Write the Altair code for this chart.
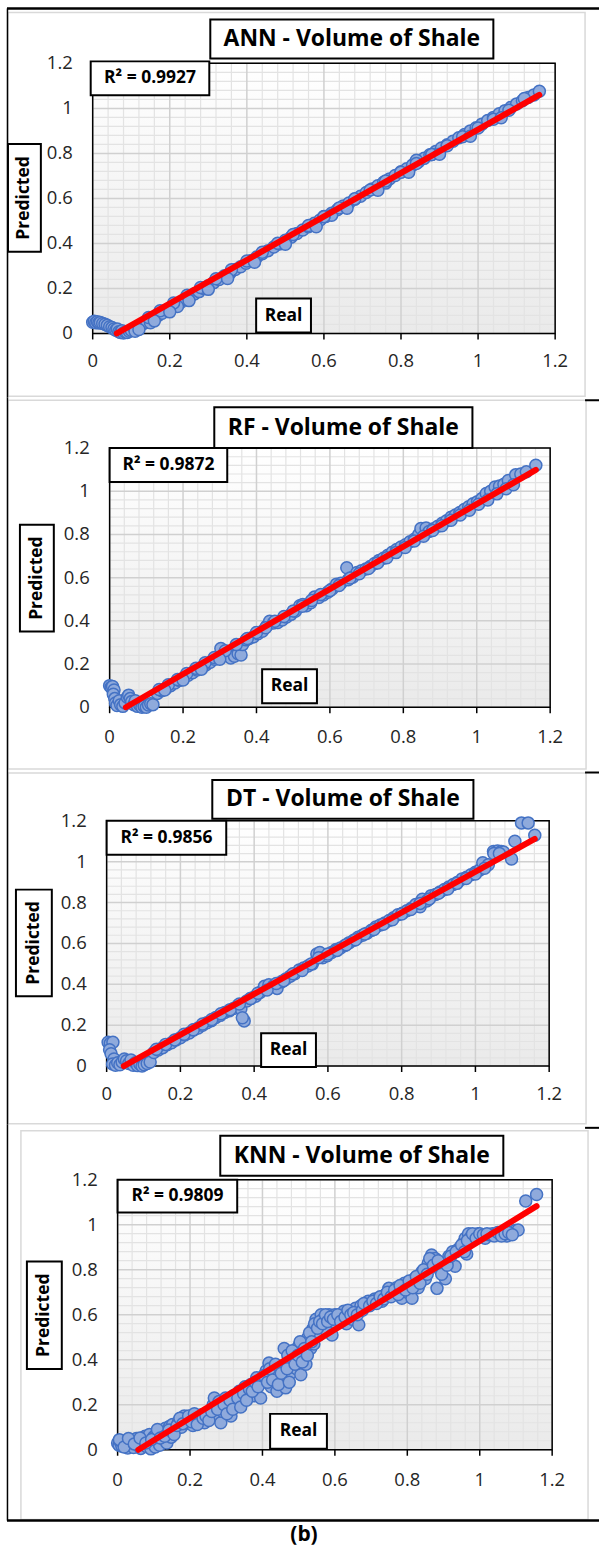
import altair as alt
import pandas as pd

FONT = "Open Sans"
TICKS = [0, 0.2, 0.4, 0.6, 0.8, 1, 1.2]
TICK_LABELS = ["0", "0.2", "0.4", "0.6", "0.8", "1", "1.2"]
MINOR = [0.04, 0.08, 0.12, 0.16, 0.24, 0.28, 0.32, 0.36, 0.44, 0.48, 0.52, 0.56,
         0.64, 0.68, 0.72, 0.76, 0.84, 0.88, 0.92, 0.96, 1.04, 1.08, 1.12, 1.16]

TITLES = ["ANN - Volume of Shale", "RF - Volume of Shale", "DT - Volume of Shale", "KNN - Volume of Shale"]
R2_TEXT = ["R² = 0.9927", "R² = 0.9872", "R² = 0.9856", "R² = 0.9809"]

# ---------------- ANN ----------------
ann_x = [0.000, 0.004, 0.008, 0.012, 0.016, 0.020, 0.026, 0.032, 0.038, 0.044, 0.050, 0.055, 0.060, 0.064,
         0.068, 0.072, 0.076, 0.080, 0.085, 0.090, 0.095, 0.100, 0.108, 0.116, 0.124, 0.132, 0.140, 0.150,
         0.160, 0.170, 0.180, 0.192, 0.204, 0.216, 0.228, 0.240, 0.252, 0.264, 0.276, 0.288, 0.300, 0.314,
         0.328, 0.342, 0.356, 0.370, 0.384, 0.398, 0.412, 0.426, 0.440, 0.455, 0.470, 0.485, 0.500, 0.515,
         0.530, 0.545, 0.560, 0.575, 0.590, 0.605, 0.620, 0.635, 0.650, 0.665, 0.680, 0.695, 0.710, 0.725,
         0.740, 0.755, 0.770, 0.785, 0.800, 0.815, 0.830, 0.845, 0.860, 0.875, 0.890, 0.905, 0.920, 0.935,
         0.950, 0.965, 0.980, 0.995, 1.010, 1.025, 1.040, 1.055, 1.070, 1.085, 1.100, 1.115, 1.130, 1.145,
         1.159, 0.220, 0.350, 0.500, 0.620, 0.760, 0.880, 0.840, 0.600, 0.150, 0.110,
         0.145, 0.175, 0.210, 0.245, 0.280, 0.320, 0.360, 0.400, 0.440, 0.480, 0.520, 0.560, 0.600, 0.640,
         0.680, 0.720, 0.760, 0.800, 0.840, 0.880, 0.920, 0.960, 1.000, 1.040, 1.080, 1.120,
         0.120, 0.160, 0.200, 0.250, 0.300, 0.350, 0.420, 0.500, 0.580, 0.660, 0.740, 0.820, 0.900, 0.980,
         1.060]
ann_y = [0.050, 0.054, 0.048, 0.052, 0.047, 0.049, 0.044, 0.041, 0.036, 0.030, 0.026, 0.020, 0.014, 0.020,
         0.008, 0.004, 0.012, 0.002, 0.006, 0.004, 0.010, 0.014, 0.022, 0.030, 0.036, 0.044, 0.050, 0.060,
         0.070, 0.080, 0.090, 0.104, 0.114, 0.128, 0.138, 0.152, 0.162, 0.176, 0.186, 0.200, 0.212, 0.226,
         0.240, 0.256, 0.268, 0.284, 0.296, 0.312, 0.324, 0.340, 0.354, 0.368, 0.384, 0.398, 0.414, 0.428,
         0.444, 0.460, 0.474, 0.490, 0.504, 0.520, 0.534, 0.550, 0.566, 0.580, 0.596, 0.610, 0.626, 0.642,
         0.656, 0.672, 0.686, 0.702, 0.718, 0.732, 0.748, 0.762, 0.778, 0.794, 0.808, 0.824, 0.838, 0.854,
         0.870, 0.884, 0.900, 0.914, 0.930, 0.946, 0.960, 0.976, 0.990, 1.004, 1.020, 1.034, 1.048, 1.060,
         1.076, 0.120, 0.255, 0.405, 0.525, 0.668, 0.795, 0.770, 0.520, 0.048, 0.010,
         0.071, 0.101, 0.135, 0.170, 0.204, 0.243, 0.283, 0.322, 0.361, 0.401, 0.440, 0.480, 0.519, 0.558,
         0.598, 0.637, 0.677, 0.716, 0.755, 0.795, 0.834, 0.874, 0.913, 0.952, 0.992, 1.044,
         0.018, 0.056, 0.096, 0.146, 0.196, 0.244, 0.316, 0.396, 0.474, 0.556, 0.636, 0.716, 0.796, 0.876,
         0.958]

# ---------------- RF ----------------
rf_x = [0.000, 0.004, 0.008, 0.012, 0.010, 0.014, 0.016, 0.020, 0.026, 0.030, 0.036, 0.042, 0.048, 0.052,
        0.056, 0.060, 0.066, 0.070, 0.076, 0.082, 0.088, 0.094, 0.100, 0.106, 0.112, 0.118, 0.130, 0.142,
        0.154, 0.166, 0.178, 0.190, 0.202, 0.214, 0.226, 0.238, 0.250, 0.262, 0.274, 0.286, 0.298, 0.303,
        0.310, 0.322, 0.330, 0.340, 0.350, 0.358, 0.362, 0.372, 0.380, 0.392, 0.404, 0.416, 0.428, 0.436,
        0.446, 0.458, 0.470, 0.482, 0.494, 0.506, 0.518, 0.526, 0.536, 0.548, 0.558, 0.570, 0.582, 0.594,
        0.606, 0.618, 0.630, 0.646, 0.650, 0.662, 0.674, 0.686, 0.698, 0.710, 0.722, 0.734, 0.746, 0.758,
        0.770, 0.782, 0.794, 0.806, 0.818, 0.830, 0.842, 0.848, 0.862, 0.870, 0.882, 0.894, 0.906, 0.918,
        0.930, 0.942, 0.954, 0.966, 0.978, 0.990, 1.002, 1.014, 1.026, 1.038, 1.050, 1.062, 1.074, 1.086,
        1.106, 1.120, 1.135, 1.161,
        0.135, 0.160, 0.185, 0.210, 0.235, 0.260, 0.285, 0.315, 0.345, 0.375, 0.400, 0.425, 0.450, 0.475,
        0.500, 0.525, 0.550, 0.575, 0.600, 0.625, 0.655, 0.680, 0.705, 0.730, 0.755, 0.780, 0.805, 0.830,
        0.855, 0.880, 0.905, 0.930, 0.955, 0.980, 1.005, 1.030, 1.055, 1.080, 1.100,
        0.150, 0.200, 0.250, 0.300]
rf_y = [0.100, 0.092, 0.096, 0.080, 0.060, 0.040, 0.020, 0.008, 0.030, 0.012, 0.004, 0.020, 0.046, 0.056,
        0.040, 0.026, 0.012, 0.030, 0.004, 0.010, 0.000, 0.004, 0.000, 0.010, 0.016, 0.012, 0.064, 0.076,
        0.088, 0.100, 0.112, 0.124, 0.136, 0.148, 0.160, 0.172, 0.184, 0.196, 0.208, 0.222, 0.234, 0.272,
        0.244, 0.252, 0.228, 0.236, 0.248, 0.242, 0.290, 0.312, 0.318, 0.326, 0.340, 0.352, 0.376, 0.398,
        0.390, 0.392, 0.404, 0.418, 0.430, 0.444, 0.470, 0.476, 0.470, 0.484, 0.510, 0.508, 0.520, 0.532,
        0.548, 0.570, 0.574, 0.646, 0.590, 0.602, 0.624, 0.632, 0.640, 0.652, 0.666, 0.680, 0.690, 0.704,
        0.718, 0.730, 0.742, 0.752, 0.766, 0.778, 0.800, 0.828, 0.830, 0.814, 0.826, 0.838, 0.852, 0.864,
        0.880, 0.890, 0.902, 0.916, 0.928, 0.942, 0.952, 0.966, 0.990, 1.000, 1.020, 1.024, 1.032, 1.050,
        1.076, 1.080, 1.090, 1.121,
        0.082, 0.104, 0.128, 0.156, 0.180, 0.206, 0.230, 0.262, 0.290, 0.318, 0.346, 0.368, 0.398, 0.420,
        0.446, 0.468, 0.494, 0.522, 0.540, 0.564, 0.598, 0.618, 0.642, 0.668, 0.692, 0.716, 0.740, 0.770,
        0.792, 0.818, 0.840, 0.866, 0.890, 0.912, 0.940, 0.960, 0.988, 1.012, 1.030,
        0.080, 0.126, 0.176, 0.222]

# ---------------- DT ----------------
dt_x = [0.004, 0.010, 0.017, 0.008, 0.012, 0.020, 0.016, 0.024, 0.030, 0.036, 0.042, 0.048, 0.054, 0.060,
        0.066, 0.072, 0.078, 0.084, 0.090, 0.096, 0.102, 0.110, 0.118, 0.128, 0.140, 0.152, 0.164, 0.176,
        0.188, 0.200, 0.212, 0.224, 0.236, 0.248, 0.260, 0.272, 0.284, 0.296, 0.308, 0.320, 0.332, 0.344,
        0.356, 0.364, 0.373, 0.368, 0.380, 0.392, 0.404, 0.416, 0.428, 0.440, 0.452, 0.462, 0.474, 0.486,
        0.498, 0.510, 0.522, 0.534, 0.546, 0.558, 0.570, 0.578, 0.586, 0.598, 0.610, 0.622, 0.634, 0.646,
        0.658, 0.670, 0.682, 0.694, 0.706, 0.718, 0.730, 0.742, 0.754, 0.766, 0.778, 0.790, 0.802, 0.814,
        0.826, 0.838, 0.850, 0.856, 0.868, 0.880, 0.892, 0.904, 0.916, 0.928, 0.940, 0.952, 0.964, 0.976,
        0.988, 1.000, 1.012, 1.020, 1.035, 1.049, 1.060, 1.070, 1.076, 1.098, 1.107, 1.125, 1.143, 1.161,
        0.135, 0.160, 0.185, 0.210, 0.235, 0.260, 0.285, 0.310, 0.335, 0.360, 0.390, 0.410, 0.435, 0.460,
        0.480, 0.505, 0.530, 0.555, 0.575, 0.600, 0.625, 0.650, 0.675, 0.700, 0.725, 0.750, 0.775, 0.800,
        0.825, 0.850, 0.875, 0.900, 0.925, 0.950, 0.975, 1.000, 1.025, 1.050, 1.065]
dt_y = [0.116, 0.112, 0.116, 0.080, 0.060, 0.034, 0.010, 0.004, 0.016, 0.006, 0.020, 0.034, 0.026, 0.012,
        0.030, 0.004, 0.016, 0.002, 0.010, 0.000, 0.006, 0.012, 0.020, 0.066, 0.078, 0.090, 0.104, 0.114,
        0.128, 0.138, 0.152, 0.162, 0.176, 0.186, 0.200, 0.212, 0.222, 0.238, 0.248, 0.262, 0.270, 0.282,
        0.296, 0.280, 0.221, 0.236, 0.318, 0.332, 0.342, 0.360, 0.390, 0.398, 0.392, 0.380, 0.412, 0.426,
        0.440, 0.452, 0.470, 0.480, 0.490, 0.500, 0.548, 0.556, 0.530, 0.540, 0.556, 0.570, 0.578, 0.590,
        0.604, 0.616, 0.630, 0.640, 0.650, 0.664, 0.680, 0.690, 0.700, 0.712, 0.726, 0.740, 0.748, 0.760,
        0.772, 0.790, 0.780, 0.816, 0.808, 0.834, 0.840, 0.852, 0.864, 0.876, 0.888, 0.900, 0.916, 0.924,
        0.936, 0.948, 0.960, 0.995, 0.985, 1.050, 1.052, 1.050, 1.048, 1.013, 1.100, 1.190, 1.190, 1.130,
        0.082, 0.106, 0.128, 0.156, 0.178, 0.206, 0.228, 0.256, 0.276, 0.304, 0.330, 0.356, 0.372, 0.404,
        0.418, 0.452, 0.468, 0.500, 0.530, 0.548, 0.566, 0.594, 0.618, 0.646, 0.668, 0.694, 0.716, 0.744,
        0.766, 0.796, 0.818, 0.846, 0.866, 0.894, 0.918, 0.940, 0.968, 1.040, 1.040]

# ---------------- KNN ----------------
knn_x = [0.000, 0.004, 0.008, 0.012, 0.016, 0.020, 0.024, 0.028, 0.032, 0.036, 0.040, 0.044, 0.048, 0.052,
         0.056, 0.060, 0.064, 0.068, 0.072, 0.076, 0.080, 0.084, 0.088, 0.092, 0.096, 0.100, 0.104, 0.108,
         0.112, 0.116, 0.120, 0.124, 0.128, 0.132, 0.136, 0.140, 0.144, 0.148, 0.152, 0.160, 0.168, 0.176,
         0.184, 0.192, 0.200, 0.208, 0.216, 0.224, 0.232, 0.240, 0.248, 0.256, 0.264, 0.267, 0.272, 0.280,
         0.285, 0.290, 0.298, 0.306, 0.313, 0.320, 0.328, 0.336, 0.344, 0.352, 0.360, 0.368, 0.376, 0.384,
         0.395, 0.400, 0.410, 0.418, 0.424, 0.432, 0.440, 0.448, 0.456, 0.460, 0.464, 0.470, 0.478, 0.486,
         0.494, 0.500, 0.506, 0.512, 0.520, 0.526, 0.533, 0.540, 0.542, 0.548, 0.556, 0.562, 0.570, 0.576,
         0.584, 0.592, 0.600, 0.604, 0.612, 0.620, 0.625, 0.632, 0.640, 0.648, 0.657, 0.666, 0.672, 0.685,
         0.692, 0.700, 0.710, 0.721, 0.730, 0.740, 0.749, 0.760, 0.770, 0.785, 0.792, 0.800, 0.813, 0.820,
         0.830, 0.840, 0.850, 0.858, 0.867, 0.877, 0.882, 0.890, 0.900, 0.905, 0.915, 0.925, 0.932, 0.940,
         0.946, 0.955, 0.960, 0.964, 0.969, 0.975, 0.985, 0.995, 1.005, 1.015, 1.025, 1.035, 1.046, 1.055,
         1.065, 1.075, 1.085, 1.098, 1.106, 1.127, 1.157,
         0.005, 0.018, 0.030, 0.046, 0.062, 0.078, 0.094, 0.110, 0.118, 0.130, 0.142, 0.156, 0.164, 0.172,
         0.180, 0.196, 0.204, 0.212, 0.220, 0.236, 0.244, 0.252, 0.260, 0.276, 0.294, 0.302, 0.310, 0.318,
         0.332, 0.340, 0.348, 0.356, 0.364, 0.372, 0.380, 0.388, 0.404, 0.414, 0.420, 0.428, 0.436, 0.444,
         0.452, 0.468, 0.474, 0.482, 0.490, 0.498, 0.504, 0.510, 0.516, 0.524, 0.530, 0.536, 0.544, 0.552,
         0.558, 0.566, 0.574, 0.580, 0.588, 0.596, 0.608, 0.616, 0.628, 0.636, 0.644, 0.652, 0.662, 0.676,
         0.680, 0.696, 0.705, 0.715, 0.725, 0.735, 0.745, 0.755, 0.765, 0.775, 0.780, 0.795, 0.805, 0.815,
         0.825, 0.835, 0.845, 0.855, 0.862, 0.872, 0.885, 0.895, 0.910, 0.920, 0.935, 0.950, 0.958, 0.966,
         0.980, 0.990, 1.000, 1.010, 1.020, 1.040, 1.050, 1.060, 1.070, 1.080, 1.090]
knn_y = [0.030, 0.020, 0.034, 0.016, 0.028, 0.040, 0.022, 0.008, 0.032, 0.018, 0.044, 0.010, 0.030, 0.050,
         0.020, 0.036, 0.006, 0.046, 0.024, 0.060, 0.014, 0.040, 0.068, 0.004, 0.030, 0.058, 0.012, 0.072,
         0.040, 0.020, 0.064, 0.084, 0.046, 0.096, 0.030, 0.070, 0.104, 0.056, 0.112, 0.090, 0.124, 0.100,
         0.150, 0.118, 0.136, 0.108, 0.144, 0.128, 0.156, 0.120, 0.166, 0.140, 0.200, 0.230, 0.150, 0.214,
         0.120, 0.170, 0.230, 0.190, 0.150, 0.240, 0.210, 0.260, 0.220, 0.280, 0.250, 0.290, 0.240, 0.320,
         0.230, 0.300, 0.350, 0.385, 0.280, 0.330, 0.260, 0.370, 0.300, 0.450, 0.275, 0.420, 0.340, 0.400,
         0.360, 0.460, 0.333, 0.420, 0.380, 0.500, 0.450, 0.540, 0.470, 0.580, 0.510, 0.600, 0.585, 0.530,
         0.600, 0.510, 0.600, 0.560, 0.590, 0.600, 0.615, 0.560, 0.610, 0.580, 0.629, 0.555, 0.640, 0.643,
         0.660, 0.650, 0.670, 0.673, 0.660, 0.690, 0.717, 0.700, 0.720, 0.673, 0.740, 0.700, 0.673, 0.760,
         0.720, 0.790, 0.760, 0.830, 0.865, 0.850, 0.717, 0.800, 0.830, 0.760, 0.860, 0.880, 0.815, 0.890,
         0.900, 0.920, 0.940, 0.870, 0.960, 0.945, 0.955, 0.960, 0.950, 0.940, 0.955, 0.960, 0.960, 0.955,
         0.965, 0.950, 0.960, 0.974, 0.976, 1.105, 1.134,
         0.045, 0.012, 0.050, 0.026, 0.052, 0.030, 0.046, 0.090, 0.052, 0.060, 0.088, 0.068, 0.108, 0.140,
         0.116, 0.150, 0.124, 0.160, 0.112, 0.140, 0.150, 0.130, 0.170, 0.180, 0.200, 0.160, 0.220, 0.180,
         0.230, 0.190, 0.250, 0.220, 0.270, 0.260, 0.300, 0.280, 0.330, 0.300, 0.360, 0.310, 0.380, 0.290,
         0.340, 0.360, 0.300, 0.440, 0.380, 0.420, 0.480, 0.390, 0.450, 0.420, 0.520, 0.480, 0.560, 0.540,
         0.570, 0.560, 0.600, 0.570, 0.590, 0.580, 0.600, 0.570, 0.590, 0.620, 0.600, 0.610, 0.600, 0.620,
         0.650, 0.640, 0.660, 0.650, 0.680, 0.670, 0.700, 0.680, 0.710, 0.690, 0.730, 0.710, 0.750, 0.720,
         0.770, 0.740, 0.800, 0.780, 0.850, 0.820, 0.840, 0.780, 0.820, 0.860, 0.880, 0.910, 0.880, 0.930,
         0.960, 0.940, 0.960, 0.955, 0.960, 0.950, 0.965, 0.950, 0.960, 0.965, 0.955]

SERIES = [(ann_x, ann_y), (rf_x, rf_y), (dt_x, dt_y), (knn_x, knn_y)]

# ---------------- layout (pixels, panel-local) ----------------
GEOM = [
    dict(H=396, plot=(93, 557, 61, 332), area=(8, 587, 10, 395), xlab=360,
         title=(211, 495, 17, 56), r2=(91, 210, 59, 93), pred=(8, 41, 142, 250), real=(257, 312, 297, 331),
         hlines=[(7, 601, 6, 2.5)], vlines=[(7.5, 6, 396, 1.5)]),
    dict(H=374, plot=(110, 552, 51, 311), area=(8, 588, 3, 373), xlab=341,
         title=(215, 474, 10, 51), r2=(110, 228, 51, 85), pred=(20, 54, 128, 235), real=(263, 318, 273, 307),
         hlines=[(587, 601, 3, 2)], vlines=[(7.5, 0, 374, 1.5)]),
    dict(H=356, plot=(107, 551, 51, 297), area=(8, 588, 3, 355), xlab=325,
         title=(213, 475, 10, 49), r2=(107, 227, 51, 85), pred=(16, 52, 120, 227), real=(262, 317, 264, 298),
         hlines=[(587, 601, 2.5, 2)], vlines=[(7.5, 0, 356, 1.5)]),
    dict(H=426, plot=(118, 554, 55, 326), area=(21, 590, 6, 396), xlab=356,
         title=(221, 505, 11, 51), r2=(118, 238, 55, 88), pred=(27, 62, 137, 245), real=(271, 328, 290, 325),
         hlines=[(587, 601, 3, 2), (7, 601, 397, 2.5)], vlines=[(7.5, 0, 397, 1.5)]),
]

ONE = pd.DataFrame({"k": [0]})
TICK_DF = pd.DataFrame({"v": TICKS, "t": TICK_LABELS})
GRAD = alt.LinearGradient(
    gradient="linear",
    stops=[alt.GradientStop(color="#ffffff", offset=0), alt.GradientStop(color="#eaeaea", offset=1)],
    x1=0, x2=0, y1=0, y2=1,
)


def box(b, sw=1.5):
    return alt.Chart(ONE).mark_rect(fill="white", stroke="black", strokeWidth=sw).encode(
        x=alt.value(b[0]), x2=alt.value(b[1]), y=alt.value(b[2]), y2=alt.value(b[3]))


def label(b, text, size, angle=0):
    return alt.Chart(ONE).mark_text(text=text, font=FONT, fontWeight="bold", fontSize=size,
                                    color="black", align="center", baseline="middle", angle=angle).encode(
        x=alt.value((b[0] + b[1]) / 2), y=alt.value((b[2] + b[3]) / 2))


def panel(i):
    g = GEOM[i]
    H = g["H"]
    L, R, T, B = g["plot"]
    xs = alt.Scale(domain=[0, 1.2], range=[L, R], nice=False, zero=False)
    ys = alt.Scale(domain=[0, 1.2], range=[B, T], nice=False, zero=False)
    sx, sy = SERIES[i]
    df = pd.DataFrame({"x": sx, "y": sy})
    layers = []
    a = g["area"]
    layers.append(alt.Chart(ONE).mark_rect(fill="white", stroke="#d9d9d9", strokeWidth=1.5).encode(
        x=alt.value(a[0]), x2=alt.value(a[1]), y=alt.value(a[2]), y2=alt.value(a[3])))
    for (x1, x2, yy, w) in g["hlines"]:
        layers.append(alt.Chart(ONE).mark_rule(color="black", strokeWidth=w).encode(
            x=alt.value(x1), x2=alt.value(x2), y=alt.value(yy)))
    for (xx, y1, y2, w) in g["vlines"]:
        layers.append(alt.Chart(ONE).mark_rule(color="black", strokeWidth=w).encode(
            x=alt.value(xx), y=alt.value(y1), y2=alt.value(y2)))
    # plot background
    layers.append(alt.Chart(ONE).mark_rect(fill=GRAD).encode(
        x=alt.XDatum(0, scale=xs, axis=None), x2=alt.X2Datum(1.2),
        y=alt.YDatum(0, scale=ys, axis=None), y2=alt.Y2Datum(1.2)))
    # grids
    for vals, col, w in [(MINOR, "#e3e3e3", 1.2), (TICKS, "#d0d0d0", 1.5)]:
        gd = pd.DataFrame({"v": vals})
        layers.append(alt.Chart(gd).mark_rule(color=col, strokeWidth=w).encode(
            x=alt.X("v:Q", scale=xs, axis=None),
            y=alt.YDatum(0, scale=ys, axis=None), y2=alt.Y2Datum(1.2)))
        layers.append(alt.Chart(gd).mark_rule(color=col, strokeWidth=w).encode(
            y=alt.Y("v:Q", scale=ys, axis=None),
            x=alt.XDatum(0, scale=xs, axis=None), x2=alt.X2Datum(1.2)))
    # plot border
    layers.append(alt.Chart(ONE).mark_rect(fillOpacity=0, stroke="black", strokeWidth=1.5).encode(
        x=alt.XDatum(0, scale=xs, axis=None), x2=alt.X2Datum(1.2),
        y=alt.YDatum(0, scale=ys, axis=None), y2=alt.Y2Datum(1.2)))
    # x tick marks and tick labels (from the tick arrays, placed by the scales)
    layers.append(alt.Chart(TICK_DF).mark_rule(color="black", strokeWidth=1.5).encode(
        x=alt.X("v:Q", scale=xs, axis=None), y=alt.value(B), y2=alt.value(B + 6)))
    layers.append(alt.Chart(TICK_DF).mark_text(font=FONT, fontSize=18.5, color="#262626", align="center",
                                               baseline="middle").encode(
        x=alt.X("v:Q", scale=xs, axis=None), y=alt.value(g["xlab"]), text="t:N"))
    layers.append(alt.Chart(TICK_DF).mark_text(font=FONT, fontSize=18.5, color="#262626", align="right",
                                               baseline="middle").encode(
        y=alt.Y("v:Q", scale=ys, axis=None), x=alt.value(L - 20), text="t:N"))
    # points
    layers.append(alt.Chart(df).mark_point(shape="circle", filled=True, fill="#8faadc", stroke="#4472c4",
                                           strokeWidth=1.5, size=145, opacity=1).encode(
        x=alt.X("x:Q", scale=xs, axis=None), y=alt.Y("y:Q", scale=ys, axis=None)))
    # linear trend line computed by the library, trimmed where it leaves the plot at y = 0
    layers.append(
        alt.Chart(df)
        .transform_regression("x", "y", method="linear", as_=["rx", "ry"])
        .transform_joinaggregate(xlo="min(rx)", xhi="max(rx)", ylo="min(ry)", yhi="max(ry)")
        .transform_calculate(slope="(datum.yhi - datum.ylo) / (datum.xhi - datum.xlo)")
        .transform_calculate(
            px="datum.rx == datum.xlo ? max(datum.xlo, datum.xlo - datum.ylo / datum.slope) : datum.rx",
            py="datum.rx == datum.xlo ? max(datum.ylo, 0) : datum.ry")
        .mark_line(color="#ff0000", strokeWidth=6, strokeCap="round")
        .encode(x=alt.X("px:Q", scale=xs, axis=None), y=alt.Y("py:Q", scale=ys, axis=None),
                order="px:Q"))
    # annotations
    layers += [box(g["title"], 2), label(g["title"], TITLES[i], 23),
               box(g["r2"], 2), label(g["r2"], R2_TEXT[i], 17.5),
               box(g["pred"], 2), label(g["pred"], "Predicted", 17.5, 270),
               box(g["real"], 2), label(g["real"], "Real", 17.5)]
    if i == 3:
        layers.append(alt.Chart(ONE).mark_text(text="(b)", font=FONT, fontWeight="bold", fontSize=21,
                                               color="black", align="center", baseline="middle").encode(
            x=alt.value(305), y=alt.value(412)))
    return alt.layer(*layers).properties(width=601, height=H)


chart = alt.vconcat(*[panel(i) for i in range(4)], spacing=0, bounds="flush").properties(
    padding=0, background="white").configure_view(stroke=None)

chart.save("out.html", embed_options={"renderer": "svg", "actions": False})
